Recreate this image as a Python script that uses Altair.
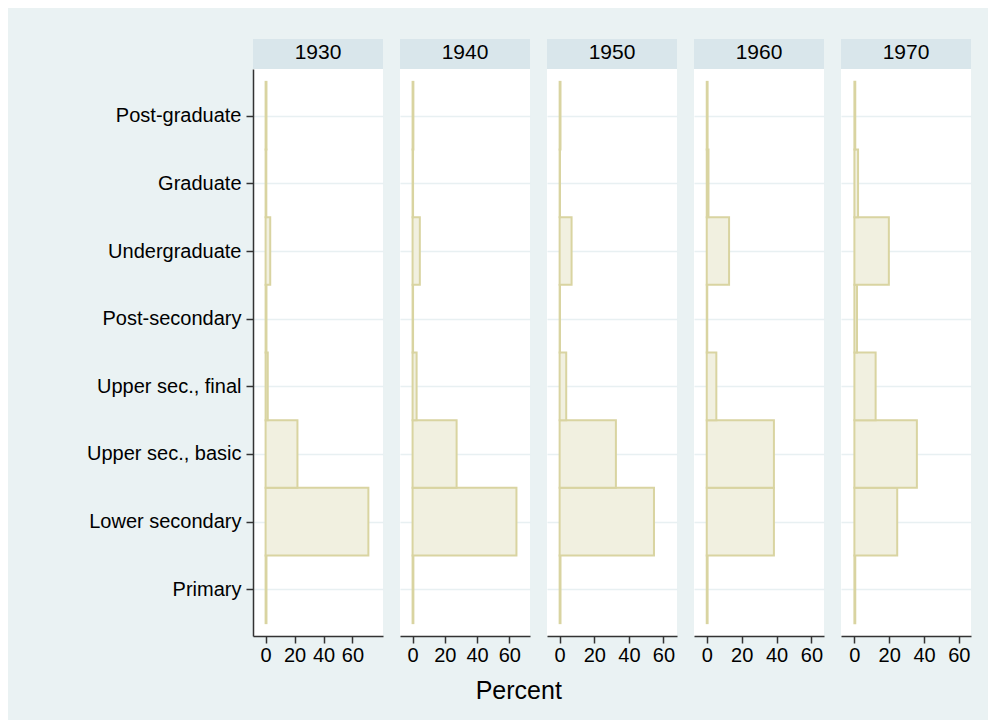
import altair as alt
import pandas as pd

# ---- data ----
levels = ["Primary", "Lower secondary", "Upper sec., basic", "Upper sec., final",
          "Post-secondary", "Undergraduate", "Graduate", "Post-graduate"]
level_codes = [1, 2, 3, 4, 5, 6, 7, 8]
cohorts = ["1930", "1940", "1950", "1960", "1970"]
pct_1930 = [0.6, 71.0, 22.0, 1.5, 0.6, 3.2, 0.5, 0.6]
pct_1940 = [0.5, 64.4, 27.3, 2.5, 0.3, 4.5, 0.3, 0.5]
pct_1950 = [0.5, 54.5, 32.5, 3.8, 0.2, 6.9, 0.2, 0.5]
pct_1960 = [0.5, 38.5, 38.5, 5.5, 0.3, 12.8, 1.0, 0.5]
pct_1970 = [0.5, 24.6, 35.9, 12.2, 1.5, 19.8, 2.1, 0.5]
x_ticks = [0, 20, 40, 60]

series = [pct_1930, pct_1940, pct_1950, pct_1960, pct_1970]
x_domains = [[-8.7, 81.1], [-7.8, 72.8], [-7.3, 67.8], [-7.3, 67.2], [-7.7, 67.0]]

FONT = "Liberation Sans"
BAR_FILL = "#f1f0e0"
BAR_STROKE = "#d9d4a1"
GRID = "#e8f0f2"
HEADER = "#d9e6eb"
BG = "#eaf2f3"
AXIS = "#333333"

PW, PH = 130, 567

label_expr = "{" + ",".join(f"'{c}':'{n}'" for c, n in zip(level_codes, levels)) + "}[datum.value]"

panels = []
for i, (cohort, vals) in enumerate(zip(cohorts, series)):
    df = pd.DataFrame({
        "level": levels,
        "code": level_codes,
        "pct": vals,
    })
    df["lo"] = df["code"] - 0.5
    df["hi"] = df["code"] + 0.5
    df["zero"] = 0.0

    if i == 0:
        yaxis = alt.Axis(values=level_codes, labelExpr=label_expr, title=None,
                         grid=True, gridColor=GRID, gridWidth=1.5,
                         domain=True, domainColor=AXIS, domainWidth=1.5,
                         ticks=True, tickColor=AXIS, tickWidth=1.5, tickSize=7,
                         labelFont=FONT, labelFontSize=20, labelColor="black",
                         labelPadding=5)
    else:
        yaxis = alt.Axis(values=level_codes, labels=False, ticks=False, domain=False,
                         title=None, grid=True, gridColor=GRID, gridWidth=1.5)

    xaxis = alt.Axis(values=x_ticks, title=None, grid=False,
                     domain=True, domainColor=AXIS, domainWidth=1.5,
                     ticks=True, tickColor=AXIS, tickWidth=1.5, tickSize=7,
                     labelFont=FONT, labelFontSize=20, labelColor="black",
                     labelPadding=2, labelFlush=False, labelOverlap=False)

    bars = alt.Chart(df).mark_rect(fill=BAR_FILL, stroke=BAR_STROKE, strokeWidth=2).encode(
        x=alt.X("zero:Q", scale=alt.Scale(domain=x_domains[i], nice=False, zero=False), axis=xaxis),
        x2="pct:Q",
        y=alt.Y("lo:Q", scale=alt.Scale(domain=[0.31, 8.69], nice=False, zero=False), axis=yaxis),
        y2="hi:Q",
        tooltip=["level", "pct"],
    )

    hdf = pd.DataFrame({"cohort": [cohort]})
    head_rect = alt.Chart(hdf).mark_rect(fill=HEADER, clip=False).encode(
        x=alt.value(0), x2=alt.value(PW), y=alt.value(-30), y2=alt.value(0))
    head_text = alt.Chart(hdf).mark_text(font=FONT, fontSize=21, color="black",
                                         baseline="middle", align="center", clip=False).encode(
        text="cohort:N", x=alt.value(PW / 2), y=alt.value(-16))

    panels.append(alt.layer(bars, head_rect, head_text).properties(width=PW, height=PH))

chart = alt.hconcat(*panels, spacing=17).properties(
    title=alt.TitleParams("Percent", orient="bottom", anchor="middle", font=FONT,
                          fontSize=25, fontWeight="normal", color="black", offset=14, dx=-10),
    background=BG,
    padding={"left": 78, "top": 31, "right": 17, "bottom": 16},
).configure_view(stroke=None, fill="white")

chart.save("out.html", embed_options={"renderer": "svg", "actions": False})
